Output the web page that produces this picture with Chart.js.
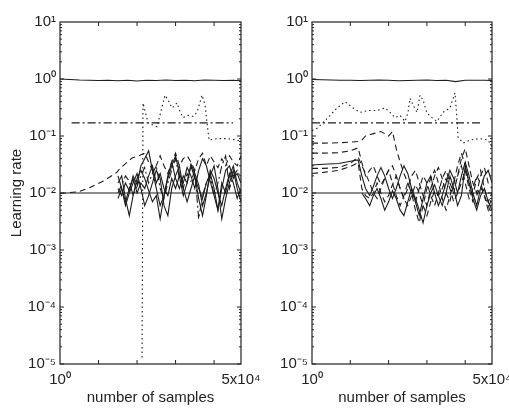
<!DOCTYPE html>
<html>
<head>
<meta charset="utf-8">
<script src="https://cdn.jsdelivr.net/npm/chart.js@4/dist/chart.umd.min.js"></script>
<style>
  body { margin: 0; background: #fff; }
  canvas { position: absolute; top: 0; }
</style>
</head>
<body>
<canvas id="leftChart" width="275" height="409" style="left:0"></canvas>
<canvas id="rightChart" width="254" height="409" style="left:255px"></canvas>
<script>
// x axis is log, 1 .. 5x10^4 samples
const xTicks = [1, 50000]
const xLabels = ['10⁰', '5x10⁴']
const yTicks = [1e-5, 1e-4, 1e-3, 1e-2, 1e-1, 1, 10]
const yLabels = ['10⁻⁵', '10⁻⁴', '10⁻³', '10⁻²', '10⁻¹', '10⁰', '10¹']

// grid for the curves near 1
const topX = [1, 1.8, 3.2, 5.6, 10, 18, 32, 56, 100, 178, 316, 562, 1000, 1778, 3162, 5623, 10000, 17783, 31623, 50000]
const topLeft = [1.0, 0.98, 0.96, 0.95, 0.94, 0.95, 0.93, 0.95, 0.92, 0.95, 0.94, 0.96, 0.94, 0.95, 0.93, 0.96, 0.95, 0.94, 0.95, 0.93]
const topRight = [0.98, 0.97, 0.96, 0.95, 0.95, 0.94, 0.95, 0.96, 0.95, 0.93, 0.94, 0.95, 0.96, 0.94, 0.95, 0.9, 0.95, 0.95, 0.95, 0.94]

const floorX = [1, 50000]
const floorY = [0.01, 0.01]

const dashDotLeftX = [2, 31000]
const dashDotRightX = [1, 27500]
const dashDotY = [0.17, 0.17]

// left panel
const dotLeftX = [135, 143, 193, 330, 445, 533, 637, 811, 1092, 1306, 1563, 2107, 2840, 3606, 4866, 5823, 6564, 7396, 11940, 21720, 39450, 50000]
const dotLeftY = [1.3e-5, 0.38, 0.17, 0.145, 0.32, 0.52, 0.43, 0.31, 0.38, 0.27, 0.21, 0.23, 0.22, 0.26, 0.52, 0.35, 0.17, 0.085, 0.09, 0.09, 0.085, 0.08]

const riseX = [1, 3, 6, 13, 30, 36, 74, 119, 158, 200, 251, 316, 398, 501, 631, 794, 1000, 1259, 1585, 1995, 2512, 3162, 3981, 5012, 6310, 7943, 10000, 12589, 15849, 19953, 25119, 31623, 39811, 50000]
const riseY = [0.0098, 0.0105, 0.0125, 0.016, 0.023, 0.027, 0.041, 0.046, 0.05, 0.035, 0.025, 0.03, 0.045, 0.03, 0.022, 0.035, 0.05, 0.03, 0.04, 0.045, 0.035, 0.025, 0.04, 0.05, 0.03, 0.045, 0.035, 0.028, 0.04, 0.03, 0.045, 0.035, 0.03, 0.045]

const noiseLeftX = [32, 40, 50, 63, 79, 100, 126, 158, 200, 251, 316, 398, 501, 631, 794, 1000, 1259, 1585, 1995, 2512, 3162, 3981, 5012, 6310, 7943, 10000, 12589, 15849, 19953, 25119, 31623, 39811, 50000]
const left1 = [0.012, 0.009, 0.015, 0.011, 0.02, 0.014, 0.03, 0.04, 0.055, 0.025, 0.012, 0.006, 0.009, 0.018, 0.03, 0.045, 0.022, 0.015, 0.028, 0.02, 0.012, 0.025, 0.04, 0.03, 0.016, 0.009, 0.005, 0.012, 0.025, 0.03, 0.018, 0.022, 0.015]
const left2 = [0.015, 0.02, 0.008, 0.004, 0.009, 0.018, 0.025, 0.018, 0.011, 0.007, 0.009, 0.0035, 0.009, 0.02, 0.035, 0.018, 0.012, 0.02, 0.015, 0.032, 0.022, 0.014, 0.006, 0.01, 0.02, 0.03, 0.012, 0.0035, 0.008, 0.015, 0.025, 0.012, 0.007]
const left3 = [0.01, 0.014, 0.02, 0.016, 0.009, 0.013, 0.02, 0.028, 0.015, 0.022, 0.03, 0.012, 0.008, 0.015, 0.025, 0.04, 0.018, 0.012, 0.022, 0.016, 0.025, 0.0035, 0.009, 0.015, 0.02, 0.009, 0.015, 0.03, 0.045, 0.012, 0.02, 0.025, 0.018]
const left4 = [0.008, 0.012, 0.007, 0.012, 0.018, 0.01, 0.015, 0.012, 0.02, 0.03, 0.015, 0.022, 0.012, 0.009, 0.018, 0.012, 0.02, 0.009, 0.015, 0.03, 0.018, 0.012, 0.008, 0.015, 0.022, 0.012, 0.005, 0.015, 0.01, 0.02, 0.03, 0.015, 0.01]
const left5 = [0.02, 0.012, 0.006, 0.01, 0.015, 0.022, 0.012, 0.006, 0.009, 0.015, 0.025, 0.018, 0.006, 0.004, 0.012, 0.02, 0.03, 0.012, 0.007, 0.012, 0.02, 0.008, 0.004, 0.009, 0.025, 0.018, 0.01, 0.006, 0.012, 0.022, 0.015, 0.008, 0.012]

// right panel
const dotRightX = [1, 1.4, 2.6, 4.5, 7.3, 11, 18, 29, 50, 81, 109, 147, 199, 268, 321, 362, 434, 552, 661, 791, 1006, 1360, 1836, 2633, 4006, 5416, 6113, 6491, 8770, 13370, 24360, 39420, 50000]
const dotRightY = [0.125, 0.138, 0.21, 0.31, 0.4, 0.32, 0.26, 0.28, 0.28, 0.31, 0.26, 0.21, 0.23, 0.18, 0.26, 0.46, 0.35, 0.26, 0.52, 0.43, 0.25, 0.21, 0.18, 0.26, 0.31, 0.57, 0.19, 0.096, 0.075, 0.085, 0.09, 0.085, 0.064]

const startRightX = [1, 2, 5, 10, 16]
const noiseRightX = [20, 25, 32, 40, 50, 63, 79, 100, 126, 158, 200, 251, 316, 398, 501, 631, 794, 1000, 1259, 1585, 1995, 2512, 3162, 3981, 5012, 6310, 7943, 10000, 12589, 15849, 19953, 25119, 31623, 39811, 50000]
const start1 = [0.075, 0.075, 0.076, 0.078, 0.08]
const start2 = [0.05, 0.05, 0.051, 0.055, 0.062]
const start3 = [0.031, 0.032, 0.033, 0.036, 0.038]
const start4 = [0.027, 0.027, 0.028, 0.033, 0.043]
const start5 = [0.022, 0.023, 0.025, 0.029, 0.034]
const right1 = [0.085, 0.1, 0.105, 0.11, 0.115, 0.12, 0.11, 0.1, 0.12, 0.06, 0.035, 0.022, 0.015, 0.01, 0.007, 0.012, 0.02, 0.015, 0.009, 0.006, 0.01, 0.018, 0.025, 0.015, 0.01, 0.02, 0.04, 0.06, 0.03, 0.015, 0.01, 0.02, 0.028, 0.015, 0.012]
const right2 = [0.034, 0.02, 0.025, 0.03, 0.02, 0.014, 0.018, 0.025, 0.03, 0.02, 0.012, 0.008, 0.012, 0.02, 0.025, 0.015, 0.009, 0.006, 0.012, 0.02, 0.028, 0.018, 0.01, 0.007, 0.015, 0.03, 0.05, 0.03, 0.015, 0.009, 0.018, 0.025, 0.012, 0.007, 0.01]
const right3 = [0.02, 0.012, 0.009, 0.013, 0.02, 0.028, 0.02, 0.012, 0.008, 0.012, 0.02, 0.03, 0.022, 0.012, 0.007, 0.004, 0.008, 0.015, 0.02, 0.01, 0.006, 0.009, 0.015, 0.025, 0.018, 0.01, 0.02, 0.035, 0.02, 0.01, 0.006, 0.012, 0.02, 0.025, 0.015]
const right4 = [0.03, 0.022, 0.015, 0.01, 0.008, 0.012, 0.018, 0.025, 0.015, 0.009, 0.006, 0.009, 0.015, 0.01, 0.005, 0.003, 0.006, 0.012, 0.018, 0.025, 0.015, 0.008, 0.005, 0.009, 0.015, 0.02, 0.03, 0.015, 0.008, 0.012, 0.02, 0.015, 0.009, 0.005, 0.009]
const right5 = [0.012, 0.009, 0.008, 0.01, 0.015, 0.01, 0.007, 0.009, 0.014, 0.02, 0.012, 0.008, 0.006, 0.009, 0.014, 0.01, 0.006, 0.004, 0.007, 0.011, 0.009, 0.012, 0.018, 0.012, 0.007, 0.01, 0.015, 0.025, 0.012, 0.007, 0.009, 0.013, 0.009, 0.006, 0.004]
const right6 = [0.01, 0.008, 0.006, 0.009, 0.012, 0.008, 0.005, 0.007, 0.011, 0.008, 0.005, 0.004, 0.007, 0.012, 0.008, 0.005, 0.003, 0.006, 0.01, 0.014, 0.009, 0.006, 0.01, 0.02, 0.012, 0.006, 0.009, 0.03, 0.015, 0.008, 0.005, 0.009, 0.012, 0.007, 0.005]

const ink = '#1c1c1c'
const font = { family: "'Liberation Sans', Arial, sans-serif", size: 15 }
const SOLID = [], DASH = [6, 4], DOT = [1.5, 3], DASHDOT = [8, 3, 2, 3]

function line(xs, ys, dash) {
    return {
        data: xs.map((x, i) => ({ x: x, y: ys[i] })),
        borderColor: ink,
        borderWidth: 1.1,
        borderDash: dash,
        pointRadius: 0,
        fill: false
    }
}

// box round the plot and inward ticks, MATLAB style
const frame = {
    id: 'frame',
    afterDraw(chart) {
        const { ctx, chartArea: a } = chart
        const x = chart.scales.x, y = chart.scales.y
        ctx.save()
        ctx.strokeStyle = '#222'
        ctx.lineWidth = 1.2
        ctx.strokeRect(a.left, a.top, a.right - a.left, a.bottom - a.top)
        ctx.lineWidth = 1
        ctx.beginPath()
        for (let k = -5; k <= 0; k++) {
            for (let m = 1; m <= 9; m++) {
                const py = y.getPixelForValue(m * Math.pow(10, k))
                const len = m === 1 ? 4 : 2
                ctx.moveTo(a.left, py); ctx.lineTo(a.left + len, py)
                ctx.moveTo(a.right, py); ctx.lineTo(a.right - len, py)
            }
        }
        for (let k = 1; k <= 4; k++) {
            const px = x.getPixelForValue(Math.pow(10, k))
            ctx.moveTo(px, a.bottom); ctx.lineTo(px, a.bottom - 4)
            ctx.moveTo(px, a.top); ctx.lineTo(px, a.top + 4)
        }
        ctx.stroke()
        ctx.restore()
    }
}

function makeChart(id, datasets, yTitle, yWidth, rightPad) {
    return new Chart(document.getElementById(id), {
        type: 'line',
        data: { datasets },
        options: {
            responsive: false,
            animation: false,
            parsing: false,
            layout: { padding: { top: 22, right: rightPad, left: 0, bottom: 0 } },
            plugins: { legend: { display: false }, tooltip: { enabled: false } },
            scales: {
                x: {
                    type: 'logarithmic', min: 1, max: 50000,
                    grid: { display: false, drawTicks: false },
                    border: { display: false },
                    afterBuildTicks: s => { s.ticks = xTicks.map(v => ({ value: v })) },
                    afterFit: s => { s.height = 45; s.paddingLeft = 0; s.paddingRight = 0 },
                    ticks: {
                        callback: v => xLabels[xTicks.indexOf(v)],
                        autoSkip: false, maxRotation: 0, padding: 7,
                        font, color: '#222'
                    },
                    title: { display: true, text: 'number of samples', font, color: '#222', padding: { top: 0, bottom: 2 } }
                },
                y: {
                    type: 'logarithmic', min: 1e-5, max: 10,
                    grid: { display: false, drawTicks: false },
                    border: { display: false },
                    afterBuildTicks: s => { s.ticks = yTicks.map(v => ({ value: v })) },
                    afterFit: s => { s.width = yWidth; s.paddingTop = 0; s.paddingBottom = 0 },
                    ticks: {
                        callback: v => yLabels[yTicks.indexOf(v)],
                        autoSkip: false, padding: 4,
                        font, color: '#222'
                    },
                    title: { display: yTitle, text: 'Learning rate', font, color: '#222', padding: { top: 8, bottom: 0 } }
                }
            }
        },
        plugins: [frame]
    })
}

makeChart('leftChart', [
    line(topX, topLeft, SOLID),
    line(floorX, floorY, SOLID),
    line(dashDotLeftX, dashDotY, DASHDOT),
    line(dotLeftX, dotLeftY, DOT),
    line(riseX, riseY, DASH),
    line(noiseLeftX, left1, SOLID),
    line(noiseLeftX, left2, SOLID),
    line(noiseLeftX, left3, DASHDOT),
    line(noiseLeftX, left4, SOLID),
    line(noiseLeftX, left5, SOLID)
], true, 60, 34)

makeChart('rightChart', [
    line(topX, topRight, SOLID),
    line(floorX, floorY, SOLID),
    line(dashDotRightX, dashDotY, DASHDOT),
    line(dotRightX, dotRightY, DOT),
    line(startRightX.concat(noiseRightX), start1.concat(right1), DASH),
    line(startRightX.concat(noiseRightX), start2.concat(right2), DASH),
    line(startRightX.concat(noiseRightX), start3.concat(right3), SOLID),
    line(startRightX.concat(noiseRightX), start4.concat(right4), DASH),
    line(startRightX.concat(noiseRightX), start5.concat(right5), DASH),
    line(noiseRightX, right6, SOLID)
], false, 57, 17)
</script>
</body>
</html>
